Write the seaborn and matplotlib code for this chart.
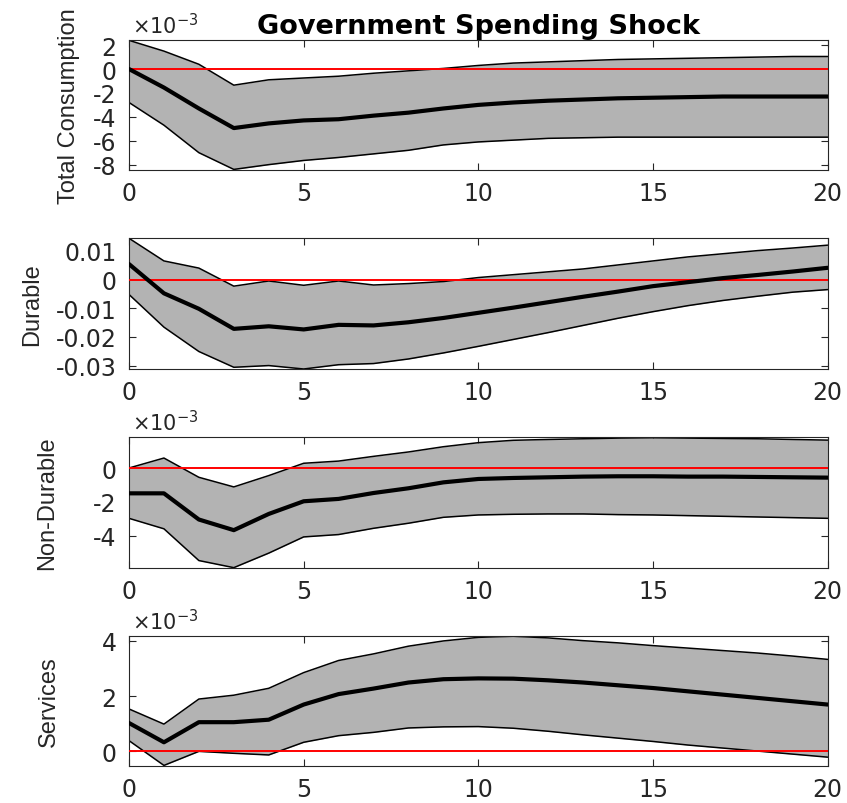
import numpy as np
import pandas as pd
import matplotlib
matplotlib.use("Agg")
import matplotlib.pyplot as plt
import seaborn as sns
from matplotlib.ticker import FuncFormatter, FixedLocator

horizon = list(range(21))

tc_mean = [0.0, -1.55, -3.3, -4.94, -4.55, -4.3, -4.2, -3.9, -3.65, -3.3, -3.0, -2.8,
           -2.65, -2.55, -2.45, -2.4, -2.35, -2.3, -2.3, -2.3, -2.3]
tc_upper = [2.4, 1.5, 0.4, -1.35, -0.9, -0.75, -0.6, -0.35, -0.15, 0.05, 0.3, 0.5,
            0.6, 0.7, 0.8, 0.85, 0.9, 0.95, 1.0, 1.05, 1.05]
tc_lower = [-2.8, -4.7, -7.0, -8.4, -8.0, -7.65, -7.4, -7.1, -6.8, -6.35, -6.1, -5.95,
            -5.8, -5.75, -5.7, -5.7, -5.7, -5.7, -5.7, -5.7, -5.7]

du_mean = [0.0054, -0.0048, -0.0102, -0.0172, -0.0163, -0.0174, -0.0158, -0.016, -0.0149,
           -0.0134, -0.0116, -0.0098, -0.0079, -0.006, -0.0042, -0.0023, -0.0009, 0.0005,
           0.0016, 0.0028, 0.0041]
du_upper = [0.0144, 0.0065, 0.004, -0.0023, -0.0005, -0.002, -0.0005, -0.0019, -0.0014,
            -0.0007, 0.0007, 0.0017, 0.0027, 0.0037, 0.0051, 0.0065, 0.0079, 0.009,
            0.0101, 0.011, 0.012]
du_lower = [-0.0052, -0.0166, -0.0251, -0.0306, -0.03, -0.0312, -0.0297, -0.0293, -0.0277,
            -0.0256, -0.0233, -0.0209, -0.0185, -0.016, -0.0135, -0.0112, -0.0091, -0.0073,
            -0.0058, -0.0044, -0.0035]

nd_mean = [-1.5, -1.5, -3.05, -3.68, -2.72, -1.97, -1.83, -1.48, -1.2, -0.85, -0.65, -0.59,
           -0.55, -0.51, -0.49, -0.49, -0.51, -0.51, -0.53, -0.55, -0.57]
nd_upper = [0.0, 0.59, -0.55, -1.12, -0.45, 0.28, 0.41, 0.69, 0.95, 1.26, 1.5, 1.64,
            1.69, 1.73, 1.77, 1.79, 1.77, 1.75, 1.73, 1.69, 1.65]
nd_lower = [-2.98, -3.6, -5.48, -5.9, -5.04, -4.08, -3.94, -3.57, -3.27, -2.92, -2.78, -2.74,
            -2.72, -2.72, -2.76, -2.78, -2.82, -2.86, -2.9, -2.94, -2.98]

sv_mean = [1.02, 0.32, 1.05, 1.05, 1.14, 1.69, 2.07, 2.27, 2.49, 2.61, 2.64, 2.63,
           2.57, 2.49, 2.39, 2.29, 2.17, 2.05, 1.93, 1.81, 1.69]
sv_upper = [1.53, 0.98, 1.89, 2.03, 2.28, 2.85, 3.29, 3.53, 3.81, 4.0, 4.13, 4.17,
            4.11, 4.01, 3.93, 3.83, 3.74, 3.65, 3.56, 3.45, 3.33]
sv_lower = [0.38, -0.52, -0.01, -0.08, -0.14, 0.32, 0.56, 0.68, 0.84, 0.88, 0.89, 0.83,
            0.72, 0.59, 0.47, 0.35, 0.22, 0.11, 0.0, -0.11, -0.22]

panel_labels = ["Total Consumption", "Durable", "Non-Durable", "Services"]
panel_scales = [1e-3, 1.0, 1e-3, 1e-3]
panel_yticks = [[-8, -6, -4, -2, 0, 2], [-0.03, -0.02, -0.01, 0, 0.01], [-4, -2, 0], [0, 2, 4]]
panel_ylims = [(-8.45, 2.45), (-0.0312, 0.0144), (-5.92, 1.82), (-0.53, 4.17)]
x_ticks = [0, 5, 10, 15, 20]
title = "Government Spending Shock"

panels = [(tc_mean, tc_upper, tc_lower), (du_mean, du_upper, du_lower),
          (nd_mean, nd_upper, nd_lower), (sv_mean, sv_upper, sv_lower)]

sns.set_style("ticks")
plt.rcParams["font.family"] = ["DejaVu Sans"]
plt.rcParams["axes.unicode_minus"] = False
plt.rcParams["mathtext.fontset"] = "dejavusans"

fig = plt.figure(figsize=(8.47, 8.04), dpi=100)
left, width = 0.1523, 0.8249
boxes = [(0.7873, 0.1620), (0.5398, 0.1626), (0.2923, 0.1626), (0.0464, 0.1610)]
label_x = [-0.070, -0.123, -0.101, -0.099]
txt_col = "#262626"

for i, ((m, u, l), lab, sc, yt, yl) in enumerate(zip(panels, panel_labels, panel_scales,
                                                     panel_yticks, panel_ylims)):
    ax = fig.add_axes([left, boxes[i][0], width, boxes[i][1]])
    df = pd.DataFrame({"h": horizon,
                       "mean": np.array(m) * sc,
                       "upper": np.array(u) * sc,
                       "lower": np.array(l) * sc})
    ax.fill_between(df["h"], df["lower"], df["upper"], color="#b3b3b3", lw=0, zorder=1)
    sns.lineplot(data=df, x="h", y="upper", color="black", lw=1.1, ax=ax, zorder=2)
    sns.lineplot(data=df, x="h", y="lower", color="black", lw=1.1, ax=ax, zorder=2)
    ax.axhline(0, color="red", lw=1.4, zorder=3)
    sns.lineplot(data=df, x="h", y="mean", color="black", lw=3.0, ax=ax, zorder=4)
    ax.set_xlim(0, 20)
    ax.set_ylim(yl[0] * sc, yl[1] * sc)
    ax.xaxis.set_major_locator(FixedLocator(x_ticks))
    ax.yaxis.set_major_locator(FixedLocator([v * sc for v in yt]))
    if sc != 1.0:
        ax.yaxis.set_major_formatter(FuncFormatter(lambda v, p, s=sc: f"{v / s:g}"))
        ax.text(0.005, 1.02, r"$\times 10^{-3}$", transform=ax.transAxes, ha="left",
                va="bottom", fontsize=15, color=txt_col)
    else:
        ax.yaxis.set_major_formatter(FuncFormatter(lambda v, p: f"{v:g}"))
    ax.set_xlabel("")
    ax.set_ylabel(lab, fontsize=17, color=txt_col, family="Liberation Sans")
    ax.yaxis.set_label_coords(label_x[i], 0.5)
    ax.tick_params(direction="in", top=True, right=True, length=5, width=0.8,
                   labelsize=17, colors=txt_col)
    ax.tick_params(axis="y", pad=9)
    ax.tick_params(axis="x", pad=8)
    for s in ax.spines.values():
        s.set_visible(True)
        s.set_linewidth(0.8)
        s.set_color(txt_col)
    if i == 0:
        ax.set_title(title, fontsize=19.5, fontweight="bold", pad=5, color="black")

fig.savefig("out.png", dpi=100)
